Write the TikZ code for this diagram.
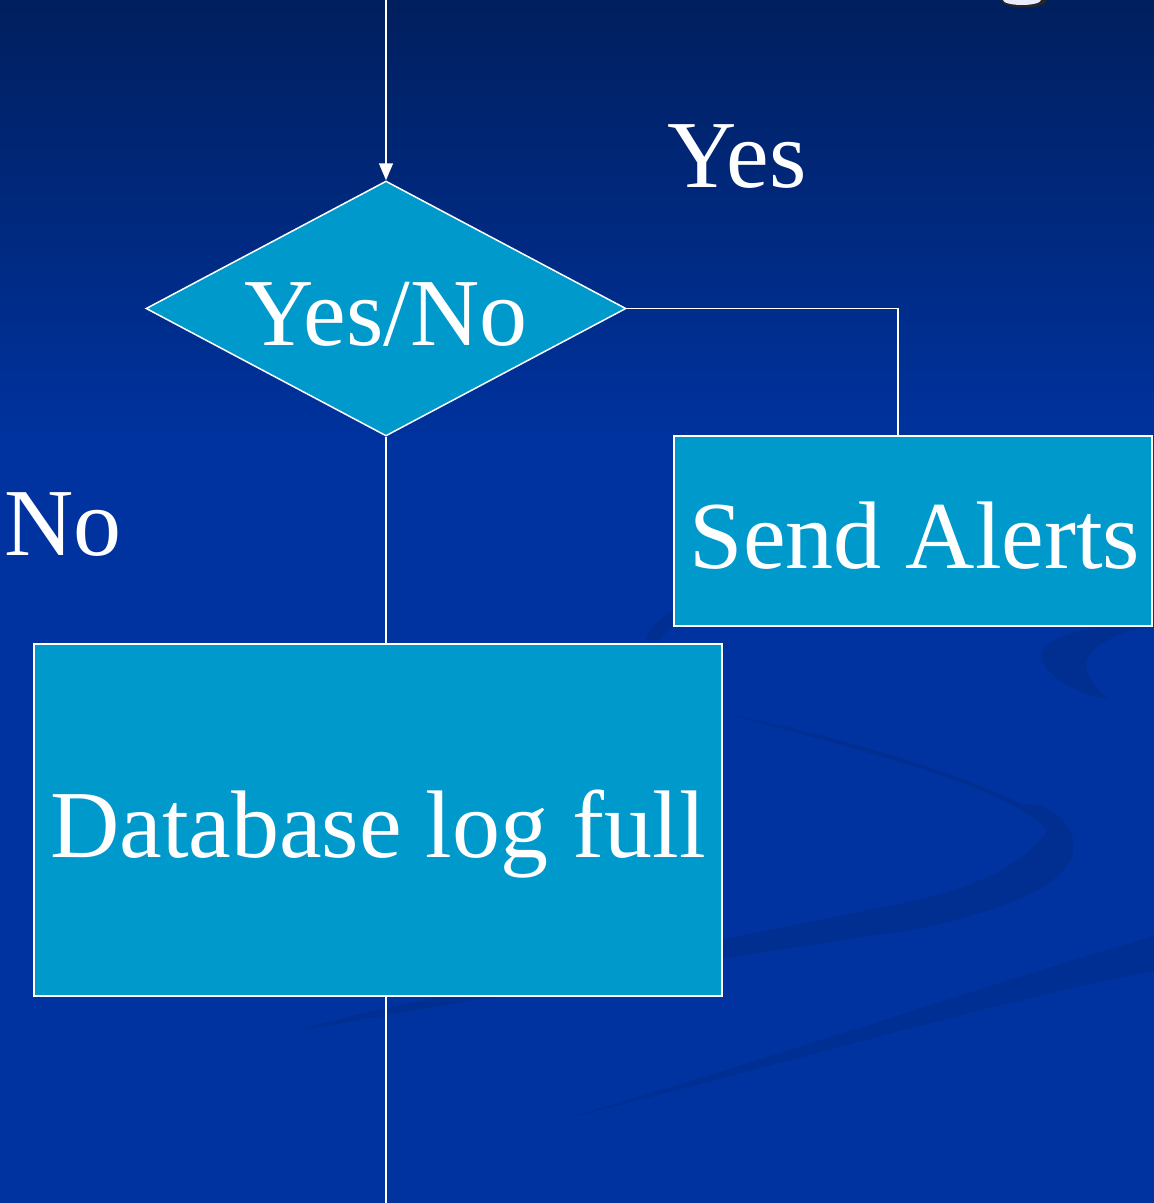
\documentclass[tikz,border=0pt]{standalone}
\usepackage{fontspec}
\setmainfont{Liberation Serif}
\usetikzlibrary{shapes.geometric,arrows.meta}
\definecolor{bgtop}{RGB}{0,31,94}
\definecolor{bgmid}{RGB}{0,51,160}
\definecolor{boxblue}{RGB}{0,153,204}
\tikzset{
  x=1pt,y=-1pt,
  conn/.style={draw=white,line width=1.5pt},
  boxnode/.style={draw=white,line width=1.6pt,fill=boxblue,inner sep=0pt},
  lbl/.style={text=white,inner sep=0pt,anchor=base,font=\fontsize{96}{110}\selectfont},
  swoosh/.style={fill=black,fill opacity=0.09,draw=none}
}
\begin{document}
\begin{tikzpicture}
\useasboundingbox (0,0) rectangle (1154,1203);
% background
\shade[top color=bgtop,bottom color=bgmid] (0,0) rectangle (1154,450);
\fill[bgmid] (0,449) rectangle (1154,1203);
% background swooshes
\begin{scope}
\clip (0,0) rectangle (1154,1203);
\fill[swoosh] (724,713) .. controls (900,760) and (1010,790) .. (1047,830)
  .. controls (1030,860) and (980,890) .. (883,907)
  .. controls (700,945) and (400,1000) .. (300,1030)
  .. controls (420,1010) and (700,960) .. (918,929)
  .. controls (1000,910) and (1060,890) .. (1073,854)
  .. controls (1080,820) and (1040,800) .. (1024,805)
  .. controls (950,770) and (850,740) .. (724,713) -- cycle;
\fill[swoosh,fill opacity=0.07] (1154,936) .. controls (1000,980) and (800,1050) .. (560,1120)
  .. controls (800,1060) and (1000,1000) .. (1154,971) -- cycle;
\fill[swoosh] (1154,621) .. controls (1080,625) and (1035,640) .. (1042,660)
  .. controls (1050,680) and (1080,695) .. (1109,699)
  .. controls (1090,685) and (1080,665) .. (1090,655)
  .. controls (1100,640) and (1125,630) .. (1154,626) -- cycle;
\fill[swoosh] (646,640) .. controls (655,615) and (680,605) .. (706,600)
  -- (706,610) .. controls (690,615) and (670,625) .. (660,640) -- cycle;
% title fragment at top right
\fill[black!85] (1024,0) ellipse [x radius=23, y radius=7.5];
\fill[white!92!blue] (1022,0) ellipse [x radius=19, y radius=5];
\end{scope}
% nodes
\coordinate (top) at (386,0);
\node[boxnode,diamond,minimum width=480pt,minimum height=255pt,line width=1.5pt] (dia) at (386,308.5) {};
\node[lbl] (diatext) at (386,345) {Yes/No};
\node[boxnode,rectangle,minimum width=478pt,minimum height=190pt] (send) at (913,531) {};
\node[lbl] (sendtext) at (915,568) {Send Alerts};
\node[boxnode,rectangle,minimum width=688pt,minimum height=352pt] (db) at (378,820) {};
\node[lbl] (dbtext) at (378,857) {Database log full};
\node[lbl] (yes) at (737,187) {Yes};
\node[lbl] (no) at (63,555) {No};
\coordinate (yk) at (898,308.5);
\coordinate (bot) at (386,1203);
% connectors
\draw[conn,-{Triangle[length=17pt,width=14pt]}] (top) -- (dia.north);
\draw[conn] (dia.east) -- (yk) -- (yk |- send.north);
\draw[conn] (dia.south) -- (dia.south |- db.north);
\draw[conn] (dia.south |- db.south) -- (bot);
\end{tikzpicture}
\end{document}
